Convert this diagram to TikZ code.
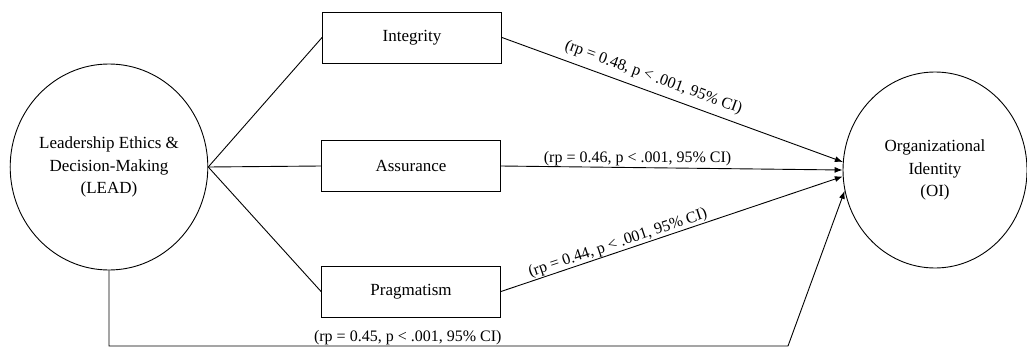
\documentclass[tikz,border=0pt]{standalone}
\usepackage{fontspec}
\setmainfont{Liberation Serif}
\usetikzlibrary{arrows.meta,positioning,shapes.geometric}

\begin{document}
\begin{tikzpicture}[x=1pt,y=-1pt,line width=0.9pt,
    latent/.style={ellipse,draw,inner sep=0pt,align=center,
                   font=\fontsize{17}{22.5}\selectfont},
    facet/.style={rectangle,draw,minimum width=179pt,minimum height=51pt,
                  inner sep=0pt,font=\fontsize{17}{21}\selectfont},
    stat/.style={font=\fontsize{16}{19}\selectfont,inner sep=1.5pt},
    effect/.style={-{Latex[length=8pt,width=6pt]}}]
  \useasboundingbox (0,0) rectangle (1027,348);
  % latent constructs
  \node[latent,minimum width=192pt,minimum height=206pt] (lead) at (109,167)
    {Leadership Ethics \&\\Decision-Making\\(LEAD)};
  \node[latent,minimum width=184pt,minimum height=196pt] (oi) at (935,170)
    {Organizational\\Identity\\(OI)};
  % facets
  \node[facet] (integ) at (412,37.5)  {Integrity};
  \node[facet] (assur) at (411,166)   {Assurance};
  \node[facet] (pragm) at (411,291.5) {Pragmatism};
  \draw (lead.east) -- (integ.west);
  \draw (lead.east) -- (assur.west);
  \draw (lead.east) -- (pragm.west);
  % paths to OI
  \draw[effect] (integ.east) -- node[stat,sloped,above=5pt,pos=0.43]
    {(rp = 0.48, p < .001, 95\% CI)} (oi.175.5);
  \draw[effect] (assur.east) -- node[stat,above,pos=0.4]
    {(rp = 0.46, p < .001, 95\% CI)} (oi.180);
  \draw[effect] (pragm.east) -- node[stat,sloped,above,inner sep=0.5pt,pos=0.35]
    {(rp = 0.44, p < .001, 95\% CI)} (oi.184.5);
  % direct path
  \coordinate (turn) at (788,346);
  \draw[effect] (lead.south) |- node[stat,above,inner sep=1pt,pos=0.72]
    {(rp = 0.45, p < .001, 95\% CI)} (turn) -- (oi.193);
\end{tikzpicture}
\end{document}
